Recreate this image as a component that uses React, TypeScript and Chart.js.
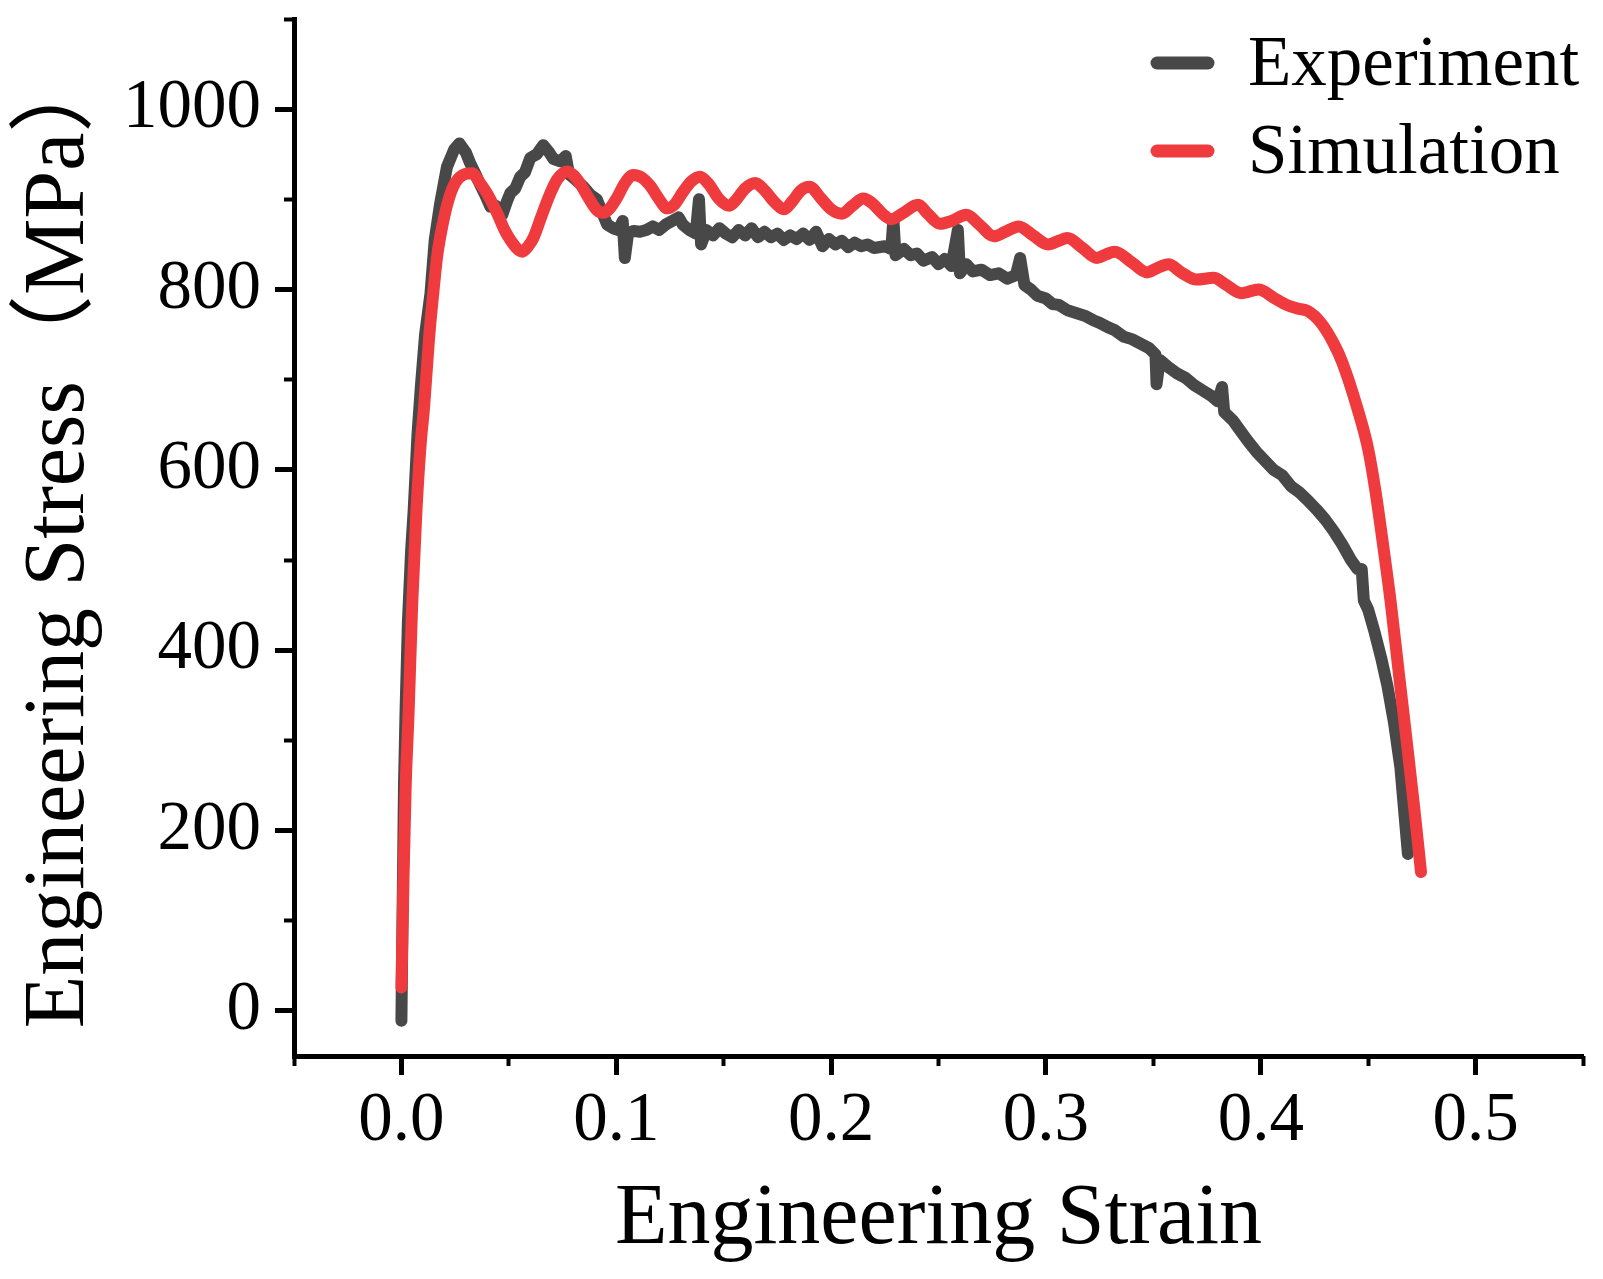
import { useEffect, useRef } from "react";
import { Chart, registerables } from "chart.js";

Chart.register(...registerables);

const SERIF = "'Liberation Serif', 'Noto Sans CJK SC', serif";

// Experiment curve
const expStrain = [
  0.0, 0.0005, 0.0012, 0.0019, 0.003, 0.0045, 0.0057, 0.0075, 0.009, 0.011,
  0.0135, 0.0155, 0.018, 0.0212, 0.0245, 0.027, 0.03, 0.032, 0.0345, 0.0367,
  0.039, 0.0414, 0.044, 0.047, 0.049, 0.0507, 0.053, 0.0553, 0.0575, 0.06,
  0.063, 0.066, 0.0685, 0.0707, 0.074, 0.0765, 0.078, 0.081, 0.0847, 0.088,
  0.091, 0.0935, 0.0958, 0.0985, 0.101, 0.103, 0.104, 0.1055, 0.108, 0.111,
  0.114, 0.117, 0.12, 0.123, 0.126, 0.129, 0.131, 0.134, 0.137, 0.1385,
  0.1395, 0.142, 0.145, 0.148, 0.151, 0.154, 0.157, 0.16, 0.163, 0.166,
  0.169, 0.172, 0.175, 0.178, 0.181, 0.184, 0.187, 0.19, 0.193, 0.196,
  0.199, 0.202, 0.205, 0.208, 0.211, 0.214, 0.217, 0.22, 0.225, 0.228,
  0.229, 0.23, 0.234, 0.237, 0.24, 0.243, 0.247, 0.25, 0.253, 0.256,
  0.259, 0.26, 0.263, 0.266, 0.27, 0.274, 0.278, 0.282, 0.286, 0.288,
  0.29, 0.293, 0.296, 0.3, 0.303, 0.306, 0.31, 0.314, 0.318, 0.322,
  0.325, 0.329, 0.332, 0.336, 0.34, 0.344, 0.348, 0.351, 0.3515, 0.353,
  0.357, 0.361, 0.365, 0.369, 0.373, 0.377, 0.38, 0.382, 0.383, 0.387,
  0.39, 0.394, 0.398, 0.402, 0.406, 0.41, 0.414, 0.418, 0.422, 0.426,
  0.43, 0.434, 0.438, 0.442, 0.445, 0.447, 0.448, 0.45, 0.453, 0.456,
  0.459, 0.462, 0.465, 0.467, 0.4685,
];
const expStress = [
  -11, 100, 250, 330, 430, 510, 555, 640, 691, 750,
  795, 855, 895, 936, 955, 962, 952, 940, 928, 916,
  905, 892, 893, 883, 897, 907, 912, 925, 930, 946,
  950, 960, 953, 945, 942, 948, 928, 922, 914, 905,
  900, 885, 872, 868, 866, 876, 835, 862, 865, 864,
  866, 870, 866, 872, 876, 880, 872, 866, 862, 900,
  850, 866, 860, 868, 862, 858, 866, 860, 868, 858,
  864, 858, 862, 855, 860, 856, 862, 855, 864, 848,
  856, 850, 854, 847, 852, 848, 850, 846, 848, 845,
  878, 838, 845, 838, 840, 832, 836, 828, 834, 826,
  866, 818, 828, 820, 822, 816, 818, 812, 816, 835,
  805, 800, 793, 790, 784, 783, 777, 774, 771, 766,
  763, 758, 755, 748, 745, 740, 735, 728, 695, 722,
  714, 707, 702, 694, 688, 682, 676, 692, 664, 655,
  645, 632, 620, 610, 600, 594, 582, 575, 566, 556,
  545, 532, 517, 500, 490, 490, 455, 445, 420, 392,
  360, 320, 270, 215, 174,
];

// Simulation curve
const simStrain = [
  0.0, 0.001, 0.002, 0.0033, 0.005, 0.007, 0.009, 0.0105, 0.0129, 0.015,
  0.0167, 0.019, 0.022, 0.025, 0.0295, 0.033, 0.036, 0.04, 0.0445, 0.048,
  0.0507, 0.054, 0.0562, 0.059, 0.0614, 0.065, 0.069, 0.0725, 0.077, 0.08,
  0.0833, 0.087, 0.091, 0.094, 0.097, 0.1004, 0.104, 0.108, 0.112, 0.1158,
  0.12, 0.1237, 0.127, 0.131, 0.135, 0.139, 0.143, 0.148, 0.1526, 0.156,
  0.16, 0.1647, 0.169, 0.174, 0.178, 0.182, 0.186, 0.19, 0.195, 0.2,
  0.205, 0.21, 0.215, 0.219, 0.224, 0.228, 0.233, 0.2405, 0.245, 0.2507,
  0.256, 0.263, 0.269, 0.2758, 0.281, 0.2874, 0.294, 0.301, 0.306, 0.31,
  0.317, 0.3237, 0.328, 0.332, 0.34, 0.347, 0.352, 0.357, 0.363, 0.37,
  0.378, 0.384, 0.391, 0.399, 0.406, 0.412, 0.417, 0.422, 0.428, 0.434,
  0.438, 0.445, 0.45, 0.4533, 0.4567, 0.4605, 0.4643, 0.4676, 0.4714, 0.4746,
];
const simStress = [
  26, 150, 250, 328, 450, 555, 630, 668, 747, 800,
  838, 870, 900, 918, 928, 929, 920, 906, 885, 866,
  855, 845, 842, 848, 857, 880, 905, 922, 931, 927,
  917, 902, 888, 885, 890, 902, 918, 927, 924, 915,
  900, 890, 894, 908, 920, 925, 917, 900, 893, 900,
  912, 918, 910, 896, 889, 898, 910, 914, 902, 889,
  884, 893, 901, 896, 884, 878, 884, 894, 884, 873,
  876, 883, 872, 859, 864, 870, 860, 850, 854, 857,
  846, 835, 839, 842, 830, 819, 824, 828, 819, 811,
  813, 805, 796, 800, 791, 783, 779, 776, 763, 740,
  719, 668, 623, 578, 521, 453, 374, 306, 226, 154,
];

const xMajorTicks = [0, 0.1, 0.2, 0.3, 0.4, 0.5];
const xMinorTicks = [-0.05, 0.05, 0.15, 0.25, 0.35, 0.45, 0.55];
const yMajorTicks = [0, 200, 400, 600, 800, 1000];
const yMinorTicks = [100, 300, 500, 700, 900, 1100];

const cornerLegend = {
  id: "cornerLegend",
  afterDatasetsDraw(chart: Chart) {
    const { ctx, chartArea } = chart;
    ctx.save();
    ctx.font = `71px ${SERIF}`;
    ctx.textAlign = "left";
    ctx.textBaseline = "alphabetic";
    chart.data.datasets.forEach((ds: any, i: number) => {
      const rowY = chartArea.top + 44 + i * 88;
      ctx.strokeStyle = ds.borderColor;
      ctx.lineWidth = 13;
      ctx.lineCap = "round";
      ctx.beginPath();
      ctx.moveTo(chartArea.right - 426, rowY);
      ctx.lineTo(chartArea.right - 375, rowY);
      ctx.stroke();
      ctx.fillStyle = "#000";
      ctx.fillText(ds.label, chartArea.right - 335, rowY + 22);
    });
    ctx.restore();
  },
};

// fixed axis sizes, and no extra label overhang padding
const fixSize = (size: { width?: number; height?: number }) => (s: any) => {
  if (size.width !== undefined) s.width = size.width;
  if (size.height !== undefined) s.height = size.height;
  s.paddingTop = 0;
  s.paddingBottom = 0;
  s.paddingLeft = 0;
  s.paddingRight = 0;
};

export default function App() {
  const canvasRef = useRef<HTMLCanvasElement>(null);
  const chartRef = useRef<Chart | null>(null);

  useEffect(() => {
    const ctx = canvasRef.current?.getContext("2d");
    if (!ctx) return;

    const tickFont = { family: SERIF, size: 69 };
    const titleFont = { family: SERIF, size: 86 };

    chartRef.current = new Chart(ctx, {
      type: "line",
      data: {
        datasets: [
          {
            label: "Experiment",
            data: expStrain.map((x, i) => ({ x, y: expStress[i] })),
            borderColor: "#484848",
            backgroundColor: "#484848",
            borderWidth: 12,
            borderJoinStyle: "round",
            borderCapStyle: "round",
            pointRadius: 0,
            tension: 0,
            xAxisID: "x",
            yAxisID: "y",
            order: 1,
          },
          {
            label: "Simulation",
            data: simStrain.map((x, i) => ({ x, y: simStress[i] })),
            borderColor: "#f03b3e",
            backgroundColor: "#f03b3e",
            borderWidth: 12,
            borderJoinStyle: "round",
            borderCapStyle: "round",
            pointRadius: 0,
            cubicInterpolationMode: "monotone",
            xAxisID: "x",
            yAxisID: "y",
            order: 0,
          },
        ],
      },
      options: {
        responsive: true,
        maintainAspectRatio: false,
        animation: false,
        events: [],
        layout: { padding: { top: 19, right: 20, bottom: 0, left: 0 } },
        plugins: {
          legend: { display: false },
          tooltip: { enabled: false },
        },
        scales: {
          x: {
            type: "linear",
            axis: "x",
            position: "bottom",
            weight: 1,
            min: -0.05,
            max: 0.55,
            afterBuildTicks: (s: any) => {
              s.ticks = xMajorTicks.map((value) => ({ value }));
            },
            afterFit: fixSize({ height: 223 }),
            ticks: {
              font: tickFont,
              color: "#000",
              padding: 5,
              maxRotation: 0,
              autoSkip: false,
              callback: (v: any) => Number(v).toFixed(1),
            },
            grid: { drawOnChartArea: false, tickLength: 19, tickWidth: 5, tickColor: "#000" },
            border: { display: true, width: 5, color: "#000" },
            title: {
              display: true,
              text: "Engineering Strain",
              font: titleFont,
              color: "#000",
              padding: { top: 0, bottom: 7 },
            },
          },
          xMinor: {
            type: "linear",
            axis: "x",
            position: "bottom",
            weight: 0,
            min: -0.05,
            max: 0.55,
            afterBuildTicks: (s: any) => {
              s.ticks = xMinorTicks.map((value) => ({ value }));
            },
            afterFit: fixSize({ height: 0 }),
            ticks: { display: false },
            grid: { drawOnChartArea: false, tickLength: 10, tickWidth: 4, tickColor: "#000" },
            border: { display: false },
          },
          y: {
            type: "linear",
            axis: "y",
            position: "left",
            weight: 1,
            min: -50,
            max: 1100,
            afterBuildTicks: (s: any) => {
              s.ticks = yMajorTicks.map((value) => ({ value }));
            },
            afterFit: fixSize({ width: 294 }),
            ticks: {
              font: tickFont,
              color: "#000",
              padding: 14,
              autoSkip: false,
              callback: (v: any) => String(v),
            },
            grid: { drawOnChartArea: false, tickLength: 19, tickWidth: 5, tickColor: "#000" },
            border: { display: true, width: 5, color: "#000" },
            title: {
              display: true,
              text: "Engineering Stress（MPa）",
              font: titleFont,
              color: "#000",
              padding: { top: 9, bottom: 0 },
            },
          },
          yMinor: {
            type: "linear",
            axis: "y",
            position: "left",
            weight: 0,
            min: -50,
            max: 1100,
            afterBuildTicks: (s: any) => {
              s.ticks = yMinorTicks.map((value) => ({ value }));
            },
            afterFit: fixSize({ width: 0 }),
            ticks: { display: false },
            grid: { drawOnChartArea: false, tickLength: 10, tickWidth: 4, tickColor: "#000" },
            border: { display: false },
          },
        },
      },
      plugins: [cornerLegend],
    } as any);

    return () => {
      chartRef.current?.destroy();
      chartRef.current = null;
    };
  }, []);

  return (
    <div
      style={{
        position: "fixed",
        left: 0,
        top: 0,
        width: 1603,
        height: 1279,
        background: "#fff",
      }}
    >
      <canvas ref={canvasRef} />
    </div>
  );
}
